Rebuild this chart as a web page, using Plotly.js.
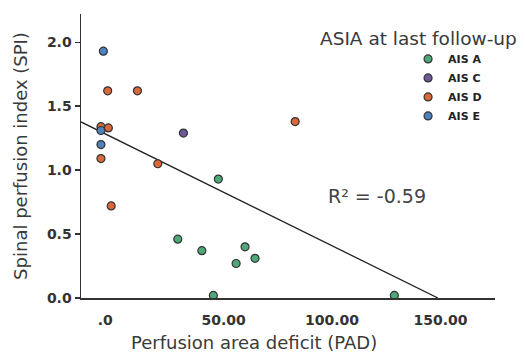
<!DOCTYPE html>
<html>
<head>
<meta charset="utf-8">
<script src="https://cdn.plot.ly/plotly-3.0.1.min.js"></script>
<style>html,body{margin:0;padding:0;background:#fff;}#chart{width:525px;height:355px;}</style>
</head>
<body>
<div id="chart"></div>
<script>
// Data
var groupNames = ["AIS A", "AIS C", "AIS D", "AIS E"];
var padA = [47.6, 28.9, 40.0, 59.9, 55.8, 64.5, 45.3, 128.7];
var spiA = [0.93, 0.46, 0.37, 0.40, 0.27, 0.31, 0.02, 0.02];
var padC = [31.5];
var spiC = [1.29];
var padD = [-3.4, 10.3, -6.5, -3.1, -6.5, 19.7, -1.8, 83.0];
var spiD = [1.62, 1.62, 1.34, 1.33, 1.09, 1.05, 0.72, 1.38];
var padE = [-5.4, -6.5, -6.5];
var spiE = [1.93, 1.31, 1.20];
// Fit line end points
var fitX = [-15.7, 148.8];
var fitY = [1.377, 0];
var xTickVals = [0, 50, 100, 150];
var xTickText = [".0&nbsp;&nbsp;&nbsp;&nbsp;", "50.00", "100.00", "150.00"];
var yTickVals = [0, 0.5, 1.0, 1.5, 2.0];
var yTickText = ["0.0", "0.5", "1.0", "1.5", "2.0"];

var colors = ["#4fa878", "#6d5a96", "#d9683a", "#4f82c0"];
var xs = [padA, padC, padD, padE];
var ys = [spiA, spiC, spiD, spiE];

var traces = [{
  x: fitX, y: fitY, mode: "lines", type: "scatter",
  line: {color: "#222", width: 1.3}, showlegend: false, hoverinfo: "skip", cliponaxis: false
}];
for (var i = 0; i < groupNames.length; i++) {
  traces.push({
    x: xs[i], y: ys[i], name: groupNames[i], mode: "markers", type: "scatter",
    cliponaxis: false,
    marker: {color: colors[i], size: 8, line: {color: "#333", width: 1.2}}
  });
}

var tickFont = {family: "DejaVu Sans", size: 14, color: "#333", weight: "bold"};
var layout = {
  width: 525, height: 355,
  margin: {l: 81, r: 30, t: 14, b: 57},
  paper_bgcolor: "#fff", plot_bgcolor: "#fff",
  showlegend: true,
  legend: {
    x: 0.79, xanchor: "left", y: 0.893, yanchor: "top",
    bgcolor: "rgba(0,0,0,0)", borderwidth: 0, tracegroupgap: 0,
    font: {family: "DejaVu Sans", size: 11, color: "#222", weight: "bold"}
  },
  xaxis: {
    range: [-15.7, 175.1], showgrid: false, zeroline: false,
    showline: true, linecolor: "#333", linewidth: 1.5,
    tickvals: xTickVals, ticktext: xTickText, ticks: "", ticklabelstandoff: 9,
    tickfont: tickFont
  },
  yaxis: {
    range: [0, 2.221], showgrid: false, zeroline: false,
    showline: true, linecolor: "#333", linewidth: 1.5,
    tickvals: yTickVals, ticktext: yTickText, ticks: "outside", ticklen: 5, tickwidth: 1.5, tickcolor: "#333",
    tickfont: tickFont,
    title: {text: "Spinal perfusion index (SPI)", standoff: 14, font: {family: "DejaVu Sans", size: 18, color: "#3a3a3a"}}
  },
  annotations: [
    {text: "Perfusion area deficit (PAD)", xref: "paper", yref: "paper", x: 0.418, y: -0.157,
     xanchor: "center", yanchor: "middle", showarrow: false,
     font: {family: "DejaVu Sans", size: 18, color: "#3a3a3a"}},
    {text: "ASIA at last follow-up", xref: "paper", yref: "paper", x: 0.572, y: 0.912,
     xanchor: "left", yanchor: "middle", showarrow: false,
     font: {family: "DejaVu Sans", size: 18.5, color: "#3a3a3a"}},
    {text: "R² = -0.59", xref: "paper", yref: "paper", x: 0.592, y: 0.359,
     xanchor: "left", yanchor: "middle", showarrow: false,
     font: {family: "DejaVu Sans", size: 19, color: "#444"}}
  ]
};
Plotly.newPlot("chart", traces, layout, {displayModeBar: false, staticPlot: true});
</script>
</body>
</html>
